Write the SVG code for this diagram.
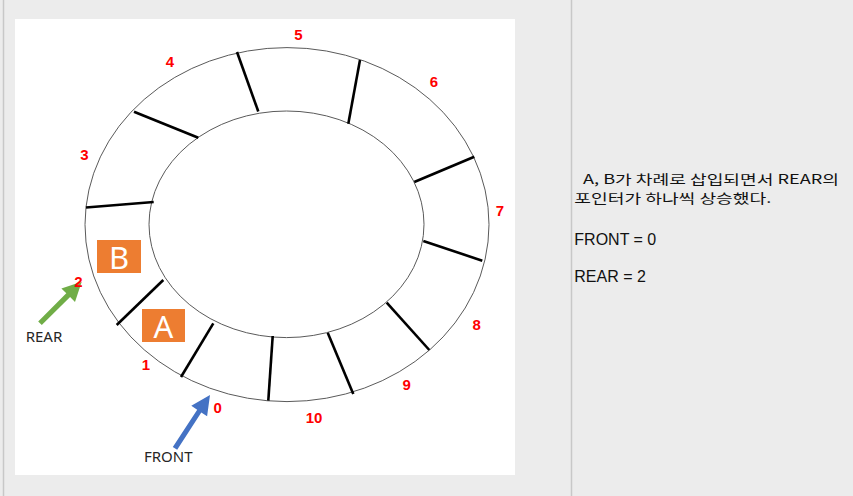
<svg xmlns="http://www.w3.org/2000/svg" width="853" height="496" viewBox="0 0 853 496">
<style>
.ring{fill:none;stroke:#5a5a5a;stroke-width:1}
.div{stroke:#000;stroke-width:2.6;stroke-linecap:butt}
.num{font-family:"Liberation Sans",Arial,sans-serif;font-weight:bold;font-size:15px;fill:#ff0000;text-anchor:middle}
.box{fill:#ed7d31}
.boxt{font-family:"Noto Sans","Open Sans",sans-serif;font-size:31px;fill:#fff;text-anchor:middle}
.ptr{font-family:"Noto Sans","Open Sans",sans-serif;font-size:15px;fill:#262626;text-anchor:middle}
.note{font-family:"Liberation Sans","Noto Sans CJK KR",sans-serif;font-size:16px;fill:#111}
.noteK{font-family:"Noto Sans CJK KR","Liberation Sans",sans-serif;font-size:13px;fill:#111}
</style>
<rect x="0" y="0" width="853" height="496" fill="#ececec"/>
<line x1="3.5" y1="0" x2="3.5" y2="496" stroke="#c8c8c8" stroke-width="1.5"/>
<line x1="571.5" y1="0" x2="571.5" y2="496" stroke="#c8c8c8" stroke-width="1.5"/>
<rect x="15" y="19" width="500" height="456" fill="#fff"/>

<g id="ring">
<ellipse class="ring" cx="287" cy="224.6" rx="202" ry="177"/>
<ellipse class="ring" cx="286.5" cy="224.3" rx="137.5" ry="113.3"/>
<line class="div" x1="237" y1="52" x2="258.3" y2="111.5"/>
<line class="div" x1="134" y1="111.7" x2="198.3" y2="137.7"/>
<line class="div" x1="86" y1="207.5" x2="153.7" y2="202"/>
<line class="div" x1="163.3" y1="280" x2="116.7" y2="325"/>
<line class="div" x1="213.3" y1="323.3" x2="181" y2="377"/>
<line class="div" x1="272.7" y1="336" x2="268.3" y2="400.7"/>
<line class="div" x1="327.7" y1="332.7" x2="353.3" y2="394"/>
<line class="div" x1="386.7" y1="302.7" x2="429.3" y2="350"/>
<line class="div" x1="423.3" y1="241" x2="482.3" y2="260.7"/>
<line class="div" x1="414.3" y1="182" x2="474.3" y2="156.7"/>
<line class="div" x1="348.3" y1="123.7" x2="360" y2="60"/>
</g>

<g id="box-B">
<rect class="box" x="97" y="240" width="44" height="33"/>
<text class="boxt" x="119" y="268.5">B</text>
</g>
<g id="box-A">
<rect class="box" x="142" y="309" width="43" height="33"/>
<text class="boxt" x="163.5" y="337.5">A</text>
</g>

<g id="connectors">
<polygon id="arrow-rear" fill="#70ad47" points="38.2,321.5 66.3,293.3 61.4,288.4 81.7,281.7 75.0,302.0 70.1,297.1 41.8,325.1"/>
<polygon id="arrow-front" fill="#4472c4" points="172.8,447.0 197.2,409.7 191.3,405.8 210,395 207.1,416.2 201.3,412.4 177.2,449.8"/>
</g>

<g id="label-REAR"><text class="ptr" x="44" y="341.5">REAR</text></g>
<g id="label-FRONT"><text class="ptr" x="168.3" y="462.3">FRONT</text></g>

<g id="slot-labels">
<text class="num" x="217.7" y="413.3">0</text>
<text class="num" x="146" y="370">1</text>
<text class="num" x="78.3" y="287">2</text>
<text class="num" x="84.3" y="160">3</text>
<text class="num" x="170" y="66.7">4</text>
<text class="num" x="298.3" y="40">5</text>
<text class="num" x="434" y="87.3">6</text>
<text class="num" x="500" y="216">7</text>
<text class="num" x="476.7" y="330">8</text>
<text class="num" x="406.7" y="390">9</text>
<text class="num" x="314" y="423.3">10</text>
</g>

<g id="note">
<text class="noteK" x="583" y="183.5" textLength="256" lengthAdjust="spacingAndGlyphs">A, B가 차례로 삽입되면서 REAR의</text>
<text class="noteK" x="574.3" y="202.5" textLength="197" lengthAdjust="spacingAndGlyphs">포인터가 하나씩 상승했다.</text>
<text class="note" x="574.3" y="245">FRONT = 0</text>
<text class="note" x="574.3" y="282.3">REAR = 2</text>
</g>
</svg>
